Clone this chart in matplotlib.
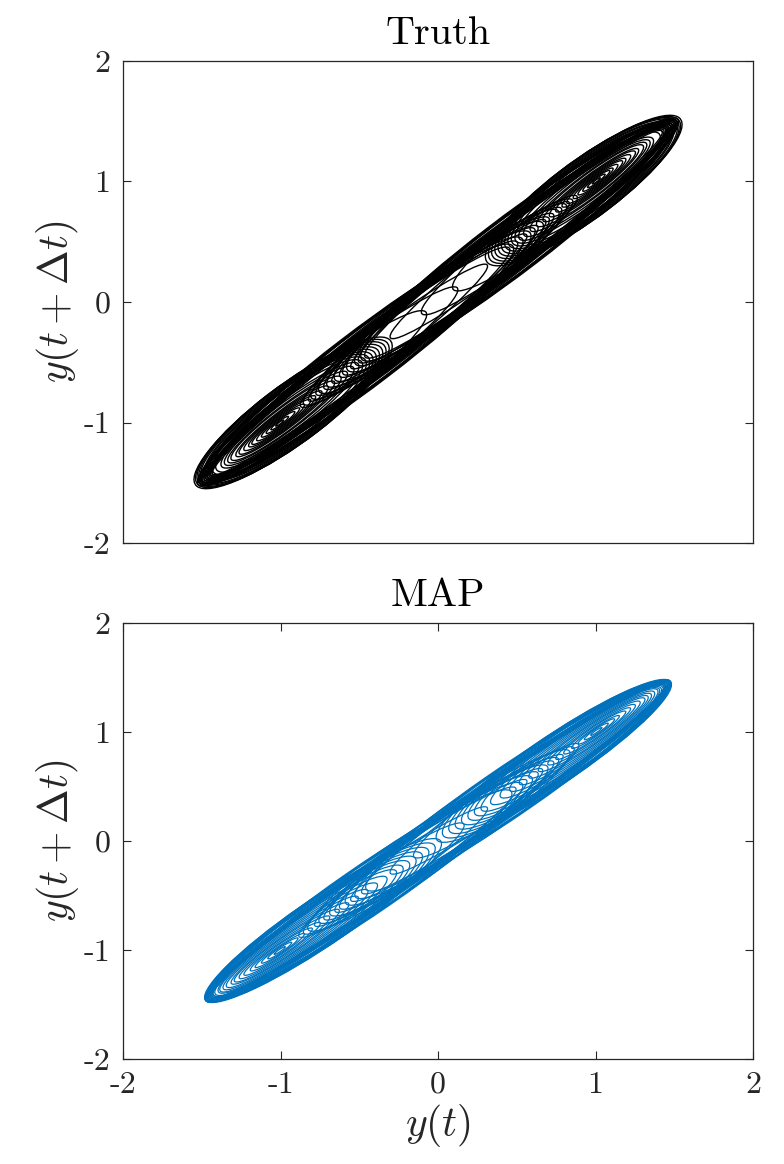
import numpy as np
import matplotlib
matplotlib.use("Agg")
import matplotlib.pyplot as plt
from matplotlib.patches import Ellipse

plt.rcParams['font.family'] = 'serif'
plt.rcParams['font.serif'] = ['cmr10']
plt.rcParams['mathtext.fontset'] = 'cm'
plt.rcParams['axes.unicode_minus'] = False

# loops of the delay plot:
# (lowest y(t), highest y(t), half width in y(t+dt)-y(t))
truth_pos_loops = [
    (0.98, 1.03, 0.01), (0.95, 1.06, 0.02), (0.92, 1.09, 0.03), (0.89, 1.11, 0.04),
    (0.86, 1.14, 0.05), (0.82, 1.17, 0.06), (0.79, 1.19, 0.07), (0.75, 1.22, 0.08),
    (0.71, 1.25, 0.09), (0.67, 1.27, 0.10), (0.63, 1.30, 0.12), (0.59, 1.32, 0.13),
    (0.55, 1.34, 0.15), (0.52, 1.36, 0.17),
    (0.50, 1.40, 0.21), (0.48, 1.42, 0.24), (0.46, 1.44, 0.26), (0.44, 1.45, 0.27),
    (0.42, 1.47, 0.28), (0.40, 1.48, 0.29), (0.38, 1.50, 0.30), (0.36, 1.51, 0.31),
    (0.34, 1.52, 0.31), (0.32, 1.53, 0.31),
    (0.10, 1.52, 0.22), (-0.10, 1.51, 0.20), (-0.30, 1.50, 0.18),
    (-0.46, 1.48, 0.22), (-0.48, 1.50, 0.29), (-0.50, 1.46, 0.23), (-0.52, 1.49, 0.28),
    (-0.55, 1.44, 0.20), (-0.57, 1.51, 0.30), (-0.60, 1.47, 0.24), (-0.62, 1.45, 0.22),
    (-0.65, 1.50, 0.29), (-0.67, 1.43, 0.21), (-0.70, 1.48, 0.25), (-0.72, 1.46, 0.23),
    (-0.75, 1.49, 0.28), (-0.77, 1.44, 0.23), (-0.80, 1.47, 0.26), (-0.82, 1.42, 0.19),
    (-0.85, 1.46, 0.24), (-0.87, 1.45, 0.22),
]
truth_neg_loops = [
    (-1.03, -0.98, 0.01), (-1.06, -0.95, 0.02), (-1.09, -0.91, 0.03), (-1.12, -0.88, 0.04),
    (-1.15, -0.85, 0.05), (-1.18, -0.81, 0.06), (-1.20, -0.78, 0.07), (-1.23, -0.74, 0.08),
    (-1.26, -0.70, 0.09), (-1.28, -0.66, 0.10), (-1.31, -0.62, 0.12), (-1.33, -0.58, 0.13),
    (-1.35, -0.54, 0.15), (-1.37, -0.51, 0.17),
    (-1.40, -0.49, 0.21), (-1.42, -0.47, 0.24), (-1.44, -0.45, 0.26), (-1.46, -0.43, 0.27),
    (-1.47, -0.41, 0.28), (-1.49, -0.39, 0.29), (-1.50, -0.37, 0.30), (-1.51, -0.35, 0.31),
    (-1.52, -0.33, 0.31), (-1.53, -0.31, 0.31),
    (-1.52, -0.08, 0.22), (-1.51, 0.12, 0.20), (-1.50, 0.31, 0.18),
    (-1.48, 0.45, 0.22), (-1.50, 0.47, 0.29), (-1.47, 0.50, 0.23), (-1.49, 0.53, 0.28),
    (-1.45, 0.56, 0.20), (-1.51, 0.58, 0.30), (-1.46, 0.61, 0.24), (-1.45, 0.63, 0.22),
    (-1.50, 0.66, 0.29), (-1.44, 0.68, 0.21), (-1.48, 0.70, 0.25), (-1.46, 0.73, 0.23),
    (-1.49, 0.76, 0.28), (-1.43, 0.78, 0.23), (-1.47, 0.81, 0.26), (-1.43, 0.83, 0.19),
    (-1.46, 0.85, 0.24), (-1.44, 0.88, 0.22),
]
map_pos_loops = [
    (0.97, 1.04, 0.012), (0.93, 1.08, 0.025), (0.89, 1.12, 0.035), (0.85, 1.15, 0.045),
    (0.80, 1.19, 0.06), (0.75, 1.22, 0.07), (0.70, 1.25, 0.085), (0.64, 1.28, 0.10),
    (0.58, 1.31, 0.11), (0.52, 1.33, 0.125), (0.46, 1.35, 0.14), (0.40, 1.37, 0.155),
    (0.34, 1.39, 0.17), (0.28, 1.40, 0.185),
    (0.24, 1.41, 0.21), (0.20, 1.42, 0.23), (0.16, 1.43, 0.24), (0.12, 1.44, 0.25),
    (0.08, 1.45, 0.26), (0.04, 1.46, 0.27), (0.00, 1.47, 0.27),
    (-0.15, 1.47, 0.20), (-0.30, 1.46, 0.18),
    (-0.45, 1.47, 0.27), (-0.48, 1.45, 0.21), (-0.52, 1.46, 0.26), (-0.55, 1.44, 0.20),
    (-0.58, 1.47, 0.28), (-0.62, 1.45, 0.23), (-0.65, 1.44, 0.21), (-0.68, 1.46, 0.27),
    (-0.72, 1.43, 0.22), (-0.75, 1.45, 0.24), (-0.78, 1.44, 0.20), (-0.82, 1.46, 0.27),
    (-0.85, 1.43, 0.22), (-0.88, 1.44, 0.21),
]
map_neg_loops = [
    (-1.04, -0.97, 0.012), (-1.08, -0.93, 0.025), (-1.12, -0.89, 0.035), (-1.16, -0.85, 0.045),
    (-1.19, -0.80, 0.06), (-1.23, -0.75, 0.07), (-1.26, -0.69, 0.085), (-1.29, -0.63, 0.10),
    (-1.31, -0.57, 0.11), (-1.34, -0.51, 0.125), (-1.36, -0.45, 0.14), (-1.38, -0.39, 0.155),
    (-1.39, -0.33, 0.17), (-1.41, -0.27, 0.185),
    (-1.42, -0.23, 0.21), (-1.42, -0.19, 0.23), (-1.43, -0.15, 0.24), (-1.44, -0.11, 0.25),
    (-1.45, -0.07, 0.26), (-1.46, -0.03, 0.27), (-1.47, 0.01, 0.27),
    (-1.47, 0.16, 0.20), (-1.46, 0.31, 0.18),
    (-1.47, 0.46, 0.27), (-1.45, 0.49, 0.21), (-1.46, 0.53, 0.26), (-1.44, 0.56, 0.20),
    (-1.47, 0.59, 0.28), (-1.45, 0.63, 0.23), (-1.44, 0.66, 0.21), (-1.46, 0.69, 0.27),
    (-1.43, 0.73, 0.22), (-1.45, 0.76, 0.24), (-1.44, 0.79, 0.20), (-1.46, 0.83, 0.27),
    (-1.43, 0.86, 0.22), (-1.44, 0.89, 0.21),
]

ticks = [-2, -1, 0, 1, 2]
tick_labels = ['-2', '-1', '0', '1', '2']

dark = '#262626'


def draw_loops(ax, loops, color, lw):
    for lo, hi, w in loops:
        c = (lo + hi) / 2
        ax.add_patch(Ellipse((c, c), (hi - lo) * np.sqrt(2), w * np.sqrt(2),
                             angle=45, fill=False, ec=color, lw=lw))


def style(ax, title):
    ax.set_xlim(-2, 2)
    ax.set_ylim(-2, 2)
    ax.set_yticks(ticks)
    ax.set_yticklabels(tick_labels)
    ax.tick_params(direction='in', length=6, width=0.8, colors=dark,
                   labelsize=23, pad=9, right=True, top=True)
    for s in ax.spines.values():
        s.set_color(dark)
        s.set_linewidth(0.9)
    ax.set_title(title, fontsize=29, pad=12, color='black')
    ax.set_ylabel(r'$y(t+\Delta t)$', fontsize=30, color=dark, labelpad=2)


fig = plt.figure(figsize=(7.84, 11.64), dpi=100)
ax1 = fig.add_axes([0.1569, 0.5335, 0.8036, 0.4141])
ax2 = fig.add_axes([0.1569, 0.0902, 0.8036, 0.3746])

draw_loops(ax1, truth_pos_loops, 'black', 1.0)
draw_loops(ax1, truth_neg_loops, 'black', 1.0)
style(ax1, 'Truth')
ax1.set_xticks([])

draw_loops(ax2, map_pos_loops, '#0072BD', 0.9)
draw_loops(ax2, map_neg_loops, '#0072BD', 0.9)
style(ax2, 'MAP')
ax2.set_xticks(ticks)
ax2.set_xticklabels(tick_labels)
ax2.set_xlabel(r'$y(t)$', fontsize=30, color=dark, labelpad=2)

fig.savefig('out.png', dpi=100)
